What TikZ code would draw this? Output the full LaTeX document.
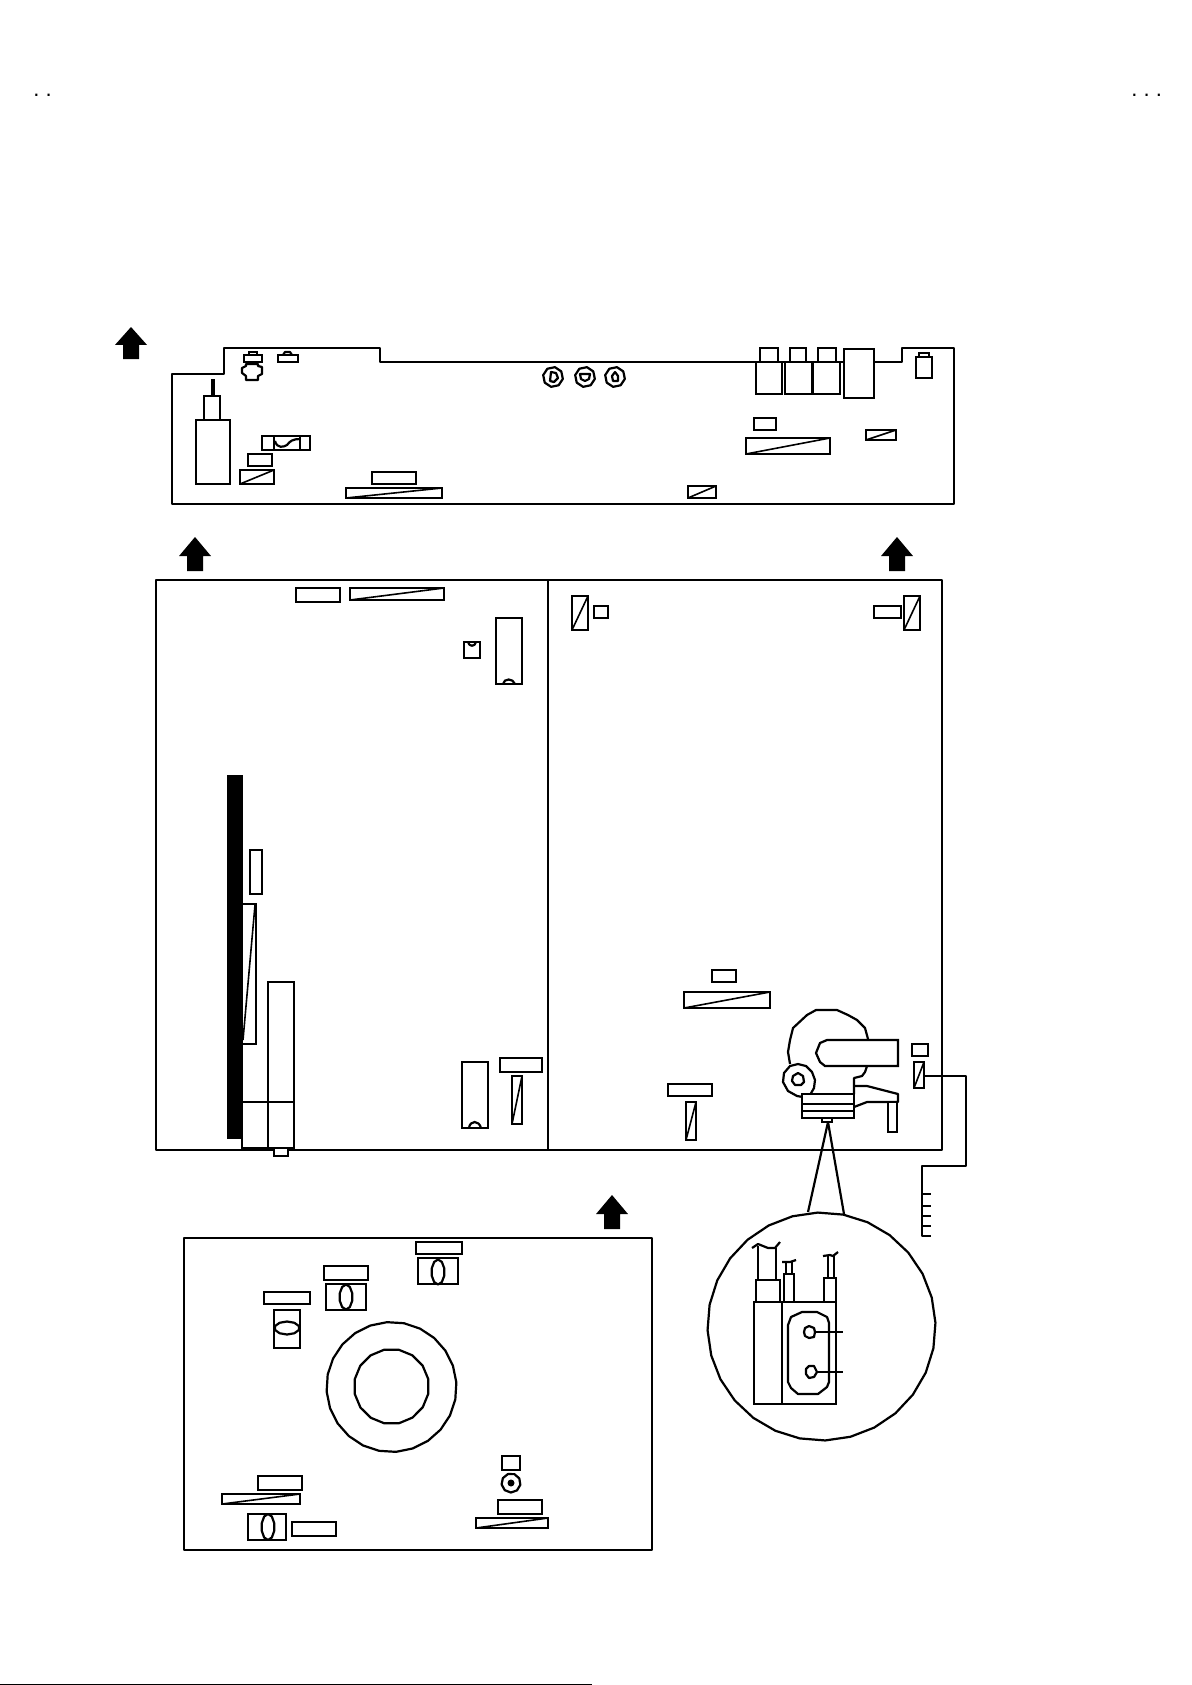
\documentclass[tikz,border=0pt]{standalone}
\usepackage{fontspec}
\setmainfont{Liberation Sans}
\frenchspacing
\tikzset{
  part/.style={draw=black,line width=1.1pt,fill=white,line join=miter},
  wire/.style={draw=black,line width=1.1pt,line join=round},
  dots/.style={inner sep=0pt,anchor=base west,font=\fontsize{11}{11}\selectfont}
}
\newcommand{\bx}[4]{\path[part] (#1,#2) rectangle (#3,#4);}
\newcommand{\sbx}[4]{\path[part] (#1,#2) rectangle (#3,#4);\draw[line width=.8pt] (#1,#4) -- (#3,#2);}
\newcommand{\bigarrow}[3]{\fill (#1,#2) -- ++(16,#3*.56) -- ++(-8,0) -- ++(0,#3*.44) -- ++(-16,0) -- ++(0,-#3*.44) -- ++(-8,0) -- cycle;}
\newcommand{\pgon}[4]{\draw[wire] plot[domain=0:360,samples=#4] ({#1+#3*cos(\x+11)},{#2+#3*sin(\x+11)}) -- cycle;}
\newcommand{\ovl}[4]{\draw[wire] plot[domain=0:360,samples=11] ({#1+#3*cos(\x+18)},{#2+#4*sin(\x+18)}) -- cycle;}
\begin{document}
\begin{tikzpicture}[x=.5pt,y=-.5pt]
\useasboundingbox (0,0) rectangle (1191,1685);
\fill[white] (0,0) rectangle (1191,1685);
% stray header text
\node[dots] (hl) at (33,97) {. .};
\node[dots] (hr) at (1131,97) {. . .};
\fill (0,1684) rectangle (592,1685);
% arrows
\bigarrow{131}{327}{32}
\bigarrow{195}{537}{34}
\bigarrow{897}{537}{34}
\bigarrow{612}{1195}{34}
% ---- top board
\draw[wire] (172,374) -- (224,374) -- (224,348) -- (380,348) -- (380,362) -- (902,362) -- (902,348) -- (954,348) -- (954,504) -- (172,504) -- cycle;
\bx{760}{348}{778}{362} \bx{790}{348}{806}{362} \bx{818}{348}{836}{362}
\bx{756}{362}{782}{394} \bx{785}{362}{812}{394} \bx{813}{362}{840}{394}
\bx{844}{349}{874}{398}
\bx{916}{357}{932}{378} \bx{919}{353}{929}{357}
\pgon{553}{377}{10}{9} \pgon{585}{377}{10}{9} \pgon{615}{377}{10}{9}
\draw[wire] (551,372) -- (556,373) -- (558,378) -- (554,382) -- (550,381) -- cycle;
\draw[wire] (580,374) -- (590,374) -- (589,379) -- (585,381) -- (581,379) -- cycle;
\draw[wire] (615,372) -- (618,376) -- (618,381) -- (613,381) -- (612,376) -- cycle;
\bx{754}{418}{776}{430}
\sbx{746}{438}{830}{454}
\sbx{866}{430}{896}{440}
\sbx{688}{486}{716}{498}
\bx{196}{420}{230}{484}
\bx{204}{396}{220}{420}
\draw[line width=1.8pt] (213,379) -- (213,396);
\bx{262}{436}{310}{450}
\draw[wire] (274,436) -- (274,450) (300,436) -- (300,450);
\draw[wire] (275,441) .. controls (277,449) and (284,447) .. (287,445) .. controls (290,441) and (293,439) .. (300,439);
\bx{248}{454}{272}{466}
\sbx{240}{470}{274}{484}
\bx{372}{472}{416}{484}
\sbx{346}{488}{442}{498}
\bx{244}{355}{262}{362} \bx{249}{352}{257}{355}
\draw[wire] (246,364) -- (258,364) -- (258,366) -- (262,367) -- (262,374) -- (258,376) -- (258,380) -- (246,380) -- (246,376) -- (242,373) -- (242,368) -- (246,366) -- cycle;
\bx{278}{355}{298}{362}
\draw[wire] (283,355) -- (285,352) -- (290,352) -- (292,355);
% ---- middle board
\draw[wire] (156,580) rectangle (942,1150);
\coordinate (divtop) at (548,580); \coordinate (divbot) at (548,1150);
\draw[wire] (divtop) -- (divbot);
\bx{296}{588}{340}{602}
\sbx{350}{588}{444}{600}
\bx{464}{642}{480}{658}
\draw[wire] (468,642) .. controls (469,647) and (475,647) .. (476,642);
\bx{496}{618}{522}{684}
\draw[wire] (503,684) .. controls (504,678) and (513,678) .. (515,684);
\sbx{572}{596}{588}{630}
\bx{594}{606}{608}{618}
\bx{874}{606}{901}{618}
\sbx{904}{596}{920}{630}
\fill (227,775) rectangle (243,1139);
\bx{250}{850}{262}{894}
\path[draw=black,line width=1.1pt,fill=white] (243,904) -- (256,904) -- (256,1044) -- (243,1044);
\draw[line width=.8pt] (243,1040) -- (255,905);
\bx{268}{982}{294}{1148}
\bx{242}{1102}{268}{1148}
\draw[wire] (268,1102) -- (294,1102);
\draw[line width=1.6pt] (242,1149) -- (268,1149);
\bx{274}{1148}{288}{1156}
\bx{462}{1062}{488}{1128}
\draw[wire] (469,1128) .. controls (470,1120) and (479,1120) .. (481,1128);
\bx{500}{1058}{542}{1072}
\sbx{512}{1076}{522}{1124}
\bx{712}{970}{736}{982}
\sbx{684}{992}{770}{1008}
\bx{668}{1084}{712}{1096}
\sbx{686}{1102}{696}{1140}
\bx{912}{1044}{928}{1056}
\sbx{914}{1062}{924}{1088}
% bus from the part
\coordinate (busa) at (924,1076);
\coordinate (busb) at (966,1076);
\coordinate (busc) at (966,1166);
\coordinate (busd) at (922,1166);
\coordinate (buse) at (922,1236);
\draw[wire] (busa) -- (busb) -- (busc) -- (busd) -- (buse) -- ++(9,0);
\draw[wire] (922,1194) -- ++(9,0) (922,1206) -- ++(9,0) (922,1216) -- ++(9,0) (922,1226) -- ++(9,0);
% head assembly
\draw[wire] (868,1039) -- (865,1028) -- (857,1020) -- (848,1015) -- (837,1010) -- (816,1010) -- (807,1015) -- (793,1028) -- (790,1040) -- (788,1052) -- (790,1064);
\draw[wire] (867,1066) -- (865,1072) -- (862,1076) -- (854,1078) -- (854,1094);
\path[part] (898,1040) -- (827,1040) -- (820,1043) -- (816,1053) -- (820,1062) -- (825,1066) -- (898,1066) -- cycle;
\path[part] (798,1064) -- (806,1066) -- (812,1072) -- (815,1080) -- (814,1088) -- (810,1095) -- (803,1097) -- (797,1096) -- (788,1091) -- (783,1082) -- (784,1073) -- (790,1066) -- cycle;
\draw[wire] (798,1073) -- (803,1076) -- (804,1082) -- (801,1085) -- (795,1085) -- (792,1081) -- (793,1076) -- cycle;
\draw[wire] (854,1086) -- (867,1086) -- (898,1094) -- (898,1102) -- (867,1102) -- (854,1107);
\bx{888}{1102}{897}{1132}
\bx{802}{1094}{854}{1118}
\draw[wire] (802,1104) -- (854,1104) (802,1111) -- (854,1111);
\bx{822}{1118}{832}{1122}
% lens lines
\coordinate (apex) at (828,1122);
\coordinate (lensl) at (808,1212);
\coordinate (lensr) at (844,1214);
\draw[wire] (lensl) -- (apex) -- (lensr);
% lens circle
\pgon{821.5}{1326.5}{114}{29}
\bx{754}{1302}{782}{1404}
\bx{782}{1302}{836}{1404}
\bx{756}{1280}{780}{1302}
\draw[wire] (758,1280) -- (758,1246) (776,1280) -- (776,1248);
\draw[wire] (752,1248) -- (758,1244) -- (768,1248) -- (775,1248) -- (780,1242);
\bx{784}{1274}{794}{1302}
\draw[wire] (786,1274) -- (786,1262) (792,1274) -- (792,1262);
\draw[wire] (782,1262) -- (790,1262) -- (796,1260);
\bx{824}{1278}{836}{1302}
\draw[wire] (828,1278) -- (828,1256) (834,1278) -- (834,1256);
\draw[wire] (823,1256) -- (830,1255) -- (833,1256) -- (838,1252);
\draw[wire] (802,1312) -- (817,1312) -- (827,1317) -- (829,1323) -- (829,1382) -- (827,1387) -- (818,1394) -- (798,1394) -- (791,1388) -- (788,1382) -- (788,1325) -- (791,1317) -- cycle;
\path[wire] (809,1326) -- (814,1328) -- (815,1332) -- (814,1337) -- (809,1338) -- (805,1336) -- (804,1332) -- (805,1328) -- cycle;
\path[wire] (809,1366) -- (814,1366) -- (817,1372) -- (814,1377) -- (809,1378) -- (806,1374) -- (806,1369) -- cycle;
\coordinate (ptA) at (815,1332); \coordinate (ptB) at (817,1372);
\draw[wire] (ptA) -- (843,1332) (ptB) -- (843,1372);
% ---- bottom board
\draw[wire] (184,1238) rectangle (652,1550);
\bx{416}{1242}{462}{1254}
\bx{418}{1258}{458}{1284}
\ovl{438}{1272}{6.5}{12.5}
\bx{324}{1266}{368}{1280}
\bx{326}{1284}{366}{1310}
\ovl{346}{1297}{6.5}{12.5}
\bx{264}{1292}{310}{1304}
\bx{274}{1310}{300}{1348}
\ovl{287}{1328}{12.5}{6.5}
\pgon{391.5}{1387}{65}{25}
\pgon{391.5}{1386.5}{37.5}{17}
\bx{258}{1476}{302}{1490}
\sbx{222}{1494}{300}{1504}
\bx{248}{1514}{286}{1540}
\ovl{268}{1527}{6.5}{13}
\bx{292}{1522}{336}{1536}
\bx{502}{1456}{520}{1470}
\pgon{511}{1483}{9.5}{10}
\fill (511,1483) circle (3.5);
\bx{498}{1500}{542}{1514}
\sbx{476}{1518}{548}{1528}
\end{tikzpicture}
\end{document}
